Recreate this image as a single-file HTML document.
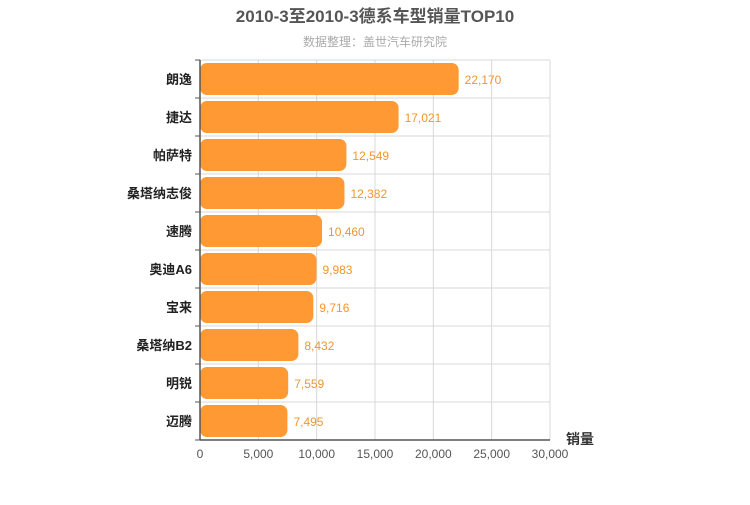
<!DOCTYPE html>
<html><head><meta charset="utf-8"><style>
body{margin:0;background:#fff;width:750px;height:500px;overflow:hidden}
text{font-family:"Liberation Sans","Noto Sans CJK SC",sans-serif}
</style></head><body>
<svg id="chart" width="750" height="500" xmlns="http://www.w3.org/2000/svg">
<text x="375" y="22" text-anchor="middle" font-size="17" font-weight="bold" fill="#555">2010-3至2010-3德系车型销量TOP10</text>
<text x="375" y="46" text-anchor="middle" font-size="12" fill="#aaa">数据整理：盖世汽车研究院</text>
<g id="grid"></g><g id="bars"></g><g id="axes"></g>
<text x="580" y="444" text-anchor="middle" font-size="14" font-weight="bold" fill="#333">销量</text>
</svg>
<script>
const categories=["朗逸","捷达","帕萨特","桑塔纳志俊","速腾","奥迪A6","宝来","桑塔纳B2","明锐","迈腾"];
const values=[22170,17021,12549,12382,10460,9983,9716,8432,7559,7495];
const ticks=[0,5000,10000,15000,20000,25000,30000];
const NS="http://www.w3.org/2000/svg";
const L=200,R=550,T=60,B=440,max=30000;
const x=v=>L+(v/max)*(R-L);
const rowH=(B-T)/categories.length;
const y=i=>T+i*rowH;
function mk(tag,attrs,parent){const e=document.createElementNS(NS,tag);for(const k in attrs)e.setAttribute(k,attrs[k]);document.getElementById(parent).appendChild(e);return e;}
ticks.forEach((t,i)=>{
 const g=mk('line',{x1:x(t),x2:x(t),y1:T,y2:B,stroke:'#d8d8d8','stroke-width':1},'grid');
 
 
 const tl=mk('text',{x:x(t),y:B+18,'text-anchor':'middle','font-size':12,fill:'#555'},'axes');
 tl.textContent=t.toLocaleString('en-US');
 
 
});
for(let i=0;i<=categories.length;i++){
 const g=mk('line',{x1:L-5,x2:R,y1:y(i),y2:y(i),stroke:'#d8d8d8','stroke-width':1},'grid');
 
 
 const tk=mk('line',{x1:L-5,x2:L,y1:y(i),y2:y(i),stroke:'#555','stroke-width':1},'axes');
 
 
}
categories.forEach((c,i)=>{
 const w=x(values[i])-L;
 const b=mk('rect',{x:L,y:y(i)+3,width:w,height:rowH-6,rx:7,ry:7,fill:'#ff9933'},'bars');
 
 
 const v=mk('text',{x:x(values[i])+6,y:y(i)+rowH/2+5,'font-size':12,fill:'#f0962e'},'bars');
 v.textContent=values[i].toLocaleString('en-US');
 
 
 const cl=mk('text',{x:L-8,y:y(i)+rowH/2+5,'text-anchor':'end','font-size':13,fill:'#222','font-weight':'bold'},'axes');
 cl.textContent=c;
 
 
});
const ya=mk('line',{x1:L,x2:L,y1:T,y2:B,stroke:'#555','stroke-width':1.5},'axes');


const xa=mk('line',{x1:L,x2:R,y1:B,y2:B,stroke:'#555','stroke-width':1.5},'axes');


</script>
</body></html>
